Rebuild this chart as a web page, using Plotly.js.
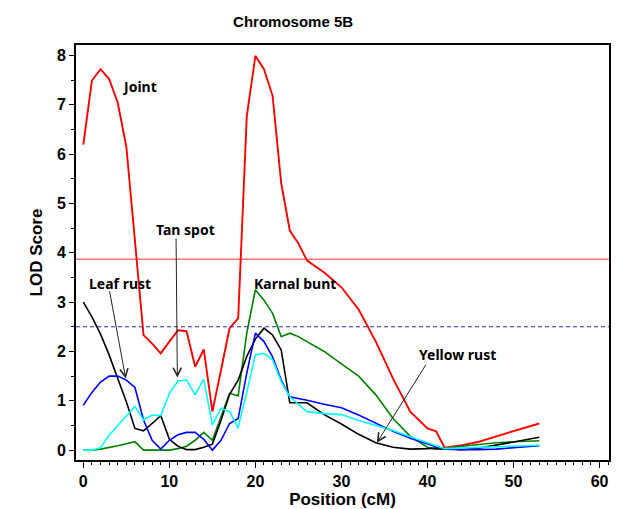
<!DOCTYPE html>
<html>
<head>
<meta charset="utf-8">
<script src="https://cdn.plot.ly/plotly-3.0.1.min.js"></script>
<style>html,body{margin:0;padding:0;background:#fff;}#chart{width:617px;height:509px;}</style>
</head>
<body>
<div id="chart"></div>
<script>
// Position (cM)
const positions = [0,1,2,3,4,5,6,7,8,9,10,11,12,13,14,15,16,17,18,19,20,21,22,23,24,25,26,28,30,32,34,36,38,40,41,42,44,46,48,50,53];
// LOD scores
const joint = [6.19,7.49,7.72,7.52,7.04,6.15,4.24,2.33,2.16,1.96,2.2,2.43,2.41,1.69,2.04,0.78,1.62,2.47,2.67,6.77,7.99,7.72,7.18,5.41,4.45,4.19,3.84,3.6,3.3,2.85,2.2,1.45,0.78,0.44,0.38,0.05,0.1,0.17,0.28,0.38,0.54];
const karnalBunt = [0,0,0.02,0.05,0.09,0.13,0.17,0,0,0,0,0.03,0.08,0.2,0.36,0.2,0.68,1.15,1.1,2.37,3.25,3.04,2.77,2.3,2.37,2.3,2.2,2.0,1.75,1.5,1.12,0.64,0.28,0.06,0.02,0.03,0.08,0.12,0.15,0.17,0.19];
const yellowRust = [3.0,2.7,2.35,1.93,1.45,0.98,0.44,0.39,0.54,0.70,0.22,0.08,0.01,0.01,0.06,0.12,0.6,1.13,1.42,1.9,2.25,2.47,2.33,2.03,0.96,0.96,0.96,0.72,0.53,0.32,0.15,0.06,0.02,0.03,0.04,0.02,0.01,0.04,0.1,0.17,0.26];
const leafRust = [0.91,1.17,1.38,1.5,1.5,1.42,1.27,0.61,0.2,0.02,0.2,0.31,0.36,0.36,0.22,0.0,0.2,0.54,0.64,1.56,2.37,2.2,1.89,1.42,1.08,1.05,1.01,0.93,0.86,0.71,0.55,0.38,0.24,0.12,0.07,0.03,0.01,0.01,0.02,0.05,0.09];
const tanSpot = [0,0,0.05,0.3,0.5,0.7,0.89,0.61,0.71,0.7,1.15,1.4,1.42,1.12,1.44,0.51,0.85,0.78,0.45,1.18,1.93,1.96,1.83,1.39,1.08,0.93,0.78,0.74,0.72,0.6,0.5,0.4,0.27,0.14,0.09,0.03,0.04,0.05,0.06,0.08,0.1];
// thresholds
const jointThreshold = 3.87;
const singleThreshold = 2.5;
const xTickVals = [0,10,20,30,40,50,60];
const yTickVals = [0,1,2,3,4,5,6,7,8];

const traces = [
  {x: positions, y: joint, name: 'Joint', line: {color: '#ff0000', width: 1.9}},
  {x: positions, y: karnalBunt, name: 'Karnal bunt', line: {color: '#008000', width: 1.6}},
  {x: positions, y: yellowRust, name: 'Yellow rust', line: {color: '#000000', width: 1.6}},
  {x: positions, y: leafRust, name: 'Leaf rust', line: {color: '#0000ff', width: 1.6}},
  {x: positions, y: tanSpot, name: 'Tan spot', line: {color: '#00ffff', width: 1.6}}
].map(t => Object.assign({type: 'scatter', mode: 'lines', hoverinfo: 'skip'}, t));

const annFont = {family: 'Noto Sans, sans-serif', size: 14, color: '#000', weight: 'bold'};
function label(text, x, y) {
  return {text: text, x: x, y: y, xref: 'x', yref: 'y', showarrow: false, font: annFont, xanchor: 'center', yanchor: 'middle'};
}
function arrow(x, y, ax, ay) {
  return {text: '', x: x, y: y, ax: ax, ay: ay, xref: 'x', yref: 'y', axref: 'x', ayref: 'y',
          showarrow: true, arrowhead: 5, arrowsize: 1.6, arrowwidth: 1, arrowcolor: '#222'};
}

const axisFont = {family: 'Liberation Sans, Arial, sans-serif', size: 16, color: '#000', weight: 'bold'};
const layout = {
  width: 617, height: 509,
  margin: {l: 76, r: 8, t: 45, b: 49},
  paper_bgcolor: '#fff', plot_bgcolor: '#fff',
  showlegend: false,
  title: {text: 'Chromosome 5B', xref: 'container', yref: 'container', x: 0.475, y: 0.957, xanchor: 'center', yanchor: 'middle',
          font: {family: 'Liberation Sans, Arial, sans-serif', size: 15, color: '#000', weight: 'bold'}},
  xaxis: {
    range: [-0.85, 61.1], tickvals: xTickVals, ticks: 'outside', ticklen: 6, tickwidth: 1, tickcolor: '#000',
    minor: {dtick: 1, ticks: 'outside', ticklen: 3, tickcolor: '#000', tickwidth: 1},
    showgrid: false, zeroline: false, showline: true, linecolor: '#000', linewidth: 2, mirror: true,
    tickfont: axisFont,
    title: {text: 'Position (cM)', font: {family: 'Liberation Sans, Arial, sans-serif', size: 17, color: '#000', weight: 'bold'}, standoff: 5}
  },
  yaxis: {
    range: [-0.2, 8.21], tickvals: yTickVals, ticks: 'outside', ticklen: 5, tickwidth: 1, tickcolor: '#000',
    minor: {dtick: 0.5, ticks: 'outside', ticklen: 3, tickcolor: '#000', tickwidth: 1},
    showgrid: false, zeroline: false, showline: true, linecolor: '#000', linewidth: 2, mirror: true,
    tickfont: axisFont,
    title: {text: 'LOD Score', font: {family: 'Liberation Sans, Arial, sans-serif', size: 17, color: '#000', weight: 'bold'}, standoff: 10}
  },
  shapes: [
    {type: 'line', xref: 'paper', x0: 0, x1: 1, yref: 'y', y0: jointThreshold, y1: jointThreshold, line: {color: '#ff3030', width: 1}},
    {type: 'line', xref: 'paper', x0: 0, x1: 1, yref: 'y', y0: singleThreshold, y1: singleThreshold, line: {color: '#2a2aa8', width: 1, dash: '4px,3px'}}
  ],
  annotations: [
    label('Joint', 6.49, 7.36),
    label('Tan spot', 11.86, 4.48),
    label('Leaf rust', 4.28, 3.37),
    label('Karnal bunt', 24.62, 3.37),
    label('Yellow rust', 43.5, 1.94),
    arrow(4.93, 1.45, 3.02, 3.25),
    arrow(10.93, 1.47, 10.78, 4.32),
    arrow(34.12, 0.15, 39.93, 1.76)
  ]
};

Plotly.newPlot('chart', traces, layout, {displayModeBar: false, staticPlot: true});
</script>
</body>
</html>
